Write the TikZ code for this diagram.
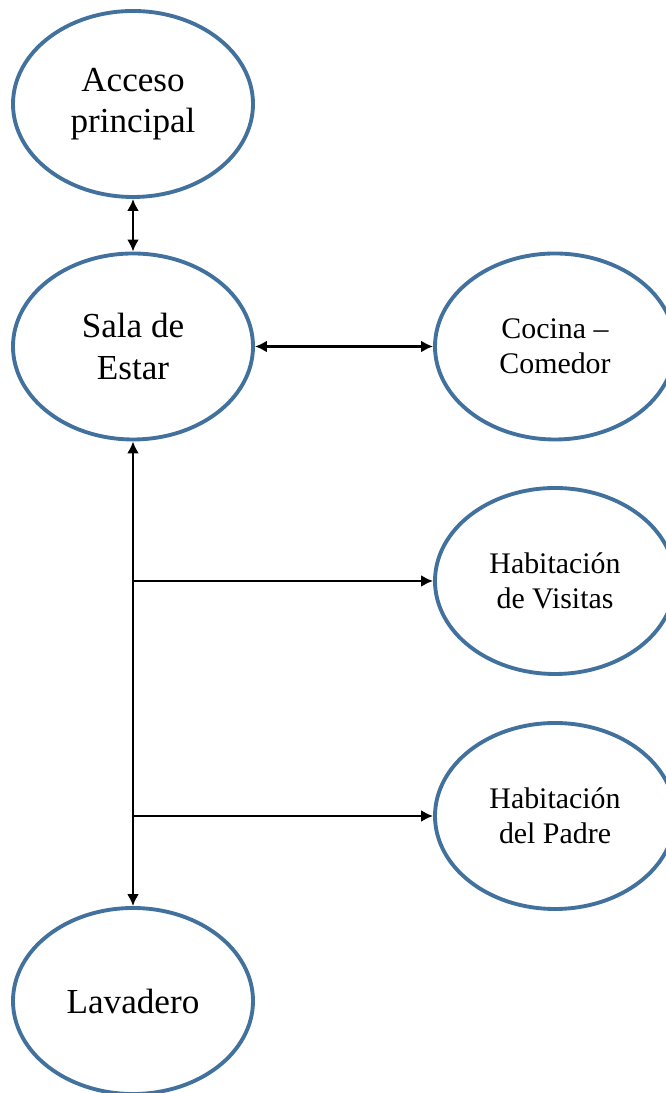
\documentclass[tikz,border=0pt]{standalone}
\usepackage{fontspec}
\setmainfont{Liberation Serif}
\usepackage{xcolor}
\usetikzlibrary{shapes.geometric, arrows.meta}

\definecolor{roomblue}{RGB}{65,113,156}

\begin{document}
\begin{tikzpicture}[
	room/.style={ellipse, draw=roomblue, line width=2.2pt, minimum width=4.8cm, minimum height=3.72cm, align=center},
	bigtext/.style={font=\fontsize{20}{23.5}\selectfont},
	smalltext/.style={font=\fontsize{17}{20}\selectfont},
	link/.style={line width=1.4pt, color=black}
]
	\useasboundingbox (0, 0) rectangle (13.32, 21.86);

	\node[room, bigtext] (acceso) at (2.66, 19.78) {Acceso\\principal};
	\node[room, bigtext] (sala) at (2.66, 14.93) {Sala de\\Estar};
	\node[room, bigtext] (lavadero) at (2.66, 1.84) {Lavadero};

	\node[room, smalltext] (cocina) at (11.1, 14.93) {Cocina --\\Comedor};
	\node[room, smalltext] (visitas) at (11.1, 10.24) {Habitación\\de Visitas};
	\node[room, smalltext] (padre) at (11.1, 5.54) {Habitación\\del Padre};

	% branch points on the vertical line
	\coordinate (j1) at (sala.south |- visitas.west);
	\coordinate (j2) at (sala.south |- padre.west);

	% Draw the connections between rooms
	\draw[link, {Latex[length=2.4mm, width=2.4mm]}-{Latex[length=2.4mm, width=2.4mm]}] (acceso) -- (sala);
	\draw[link, {Latex[length=2.4mm, width=2.4mm]}-{Latex[length=2.4mm, width=2.4mm]}] (sala) -- (cocina);
	\draw[link, {Latex[length=2.4mm, width=2.4mm]}-{Latex[length=2.4mm, width=2.4mm]}] (sala) -- (lavadero);
	\draw[link, -{Latex[length=2.4mm, width=2.4mm]}] (j1) -- (visitas);
	\draw[link, -{Latex[length=2.4mm, width=2.4mm]}] (j2) -- (padre);
\end{tikzpicture}
\end{document}
